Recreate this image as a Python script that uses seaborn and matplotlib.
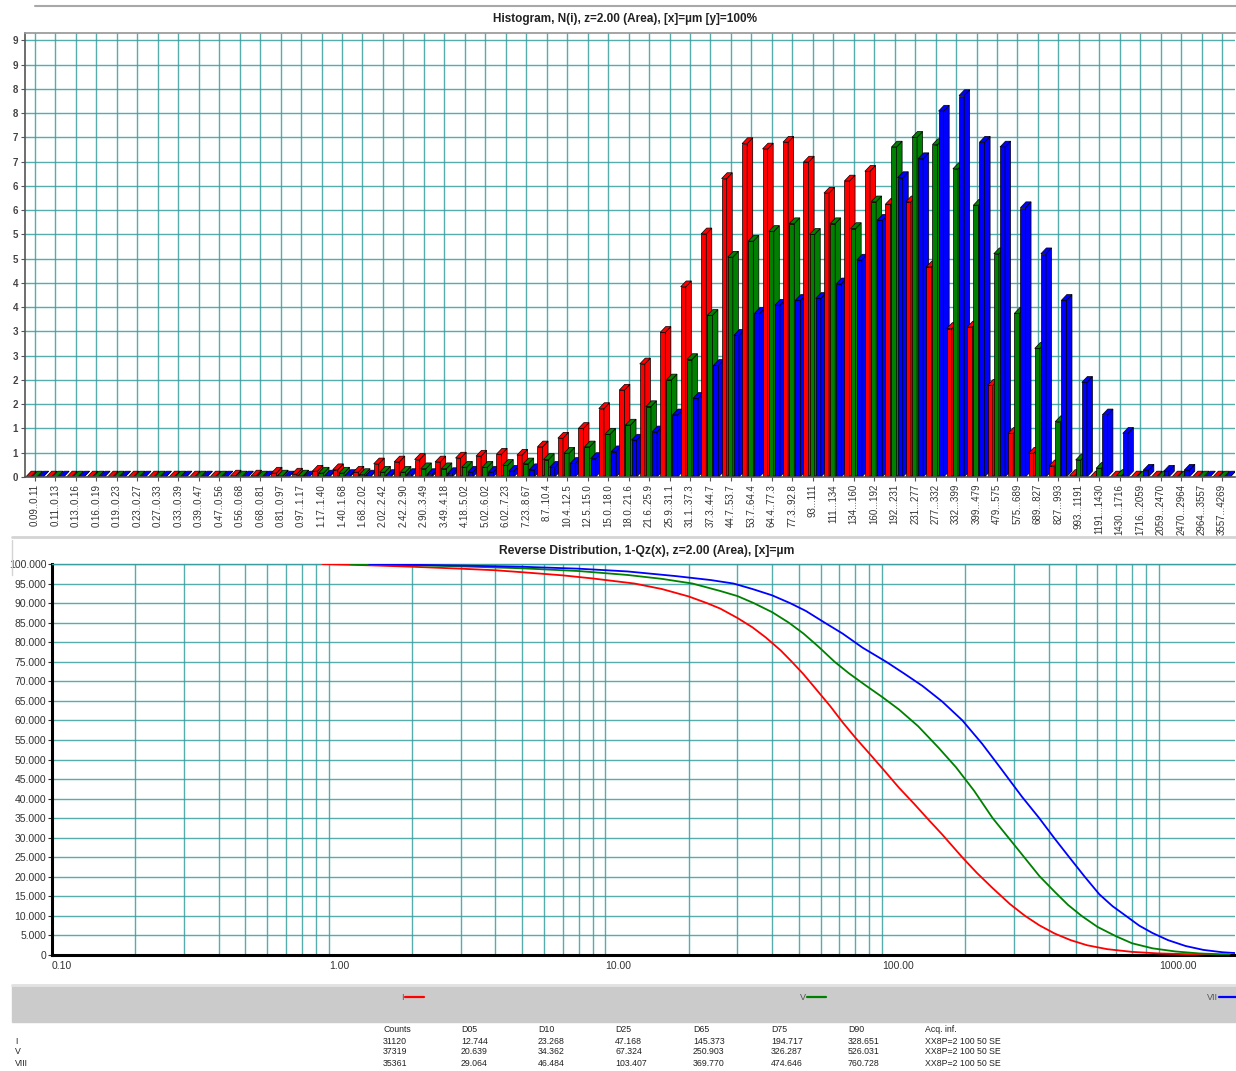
import numpy as np
import pandas as pd
import matplotlib
matplotlib.use("Agg")
import matplotlib.pyplot as plt
from matplotlib.lines import Line2D
from matplotlib.patches import Rectangle, Polygon
from matplotlib.ticker import LogLocator, NullFormatter
import seaborn as sns

# ---- histogram data (N(i), %) ----
bin_labels = ["0.09..0.11", "0.11..0.13", "0.13..0.16", "0.16..0.19", "0.19..0.23",
              "0.23..0.27", "0.27..0.33", "0.33..0.39", "0.39..0.47", "0.47..0.56",
              "0.56..0.68", "0.68..0.81", "0.81..0.97", "0.97..1.17", "1.17..1.40",
              "1.40..1.68", "1.68..2.02", "2.02..2.42", "2.42..2.90", "2.90..3.49",
              "3.49..4.18", "4.18..5.02", "5.02..6.02", "6.02..7.23", "7.23..8.67",
              "8.7..10.4", "10.4..12.5", "12.5..15.0", "15.0..18.0", "18.0..21.6",
              "21.6..25.9", "25.9..31.1", "31.1..37.3", "37.3..44.7", "44.7..53.7",
              "53.7..64.4", "64.4..77.3", "77.3..92.8", "93...111", "111...134",
              "134...160", "160...192", "192...231", "231...277", "277...332",
              "332...399", "399...479", "479...575", "575...689", "689...827",
              "827...993", "993...1191", "1191...1430", "1430...1716", "1716...2059",
              "2059...2470", "2470...2964", "2964...3557", "3557...4269"]

hist_i = [0, 0, 0, 0, 0, 0, 0, 0, 0, 0,
          0.02, 0.02, 0.08, 0.06, 0.12, 0.15, 0.10, 0.27, 0.31, 0.36,
          0.31, 0.39, 0.43, 0.47, 0.45, 0.62, 0.80, 1.00, 1.41, 1.79,
          2.33, 2.98, 3.92, 5.01, 6.15, 6.87, 6.76, 6.90, 6.49, 5.85,
          6.10, 6.30, 5.62, 5.67, 4.33, 3.06, 3.09, 1.89, 0.90, 0.49,
          0.23, 0.03, 0, 0, 0, 0, 0, 0, 0]
hist_v = [0, 0, 0, 0, 0, 0, 0, 0, 0, 0,
          0, 0, 0.02, 0.02, 0.08, 0.08, 0.05, 0.10, 0.10, 0.17,
          0.17, 0.20, 0.20, 0.24, 0.27, 0.36, 0.49, 0.62, 0.88, 1.07,
          1.45, 2.00, 2.42, 3.33, 4.53, 4.86, 5.06, 5.22, 5.00, 5.22,
          5.12, 5.67, 6.80, 7.00, 6.85, 6.35, 5.60, 4.60, 3.37, 2.65,
          1.14, 0.35, 0.18, 0.03, 0, 0, 0, 0, 0]
hist_viii = [0, 0, 0, 0, 0, 0, 0, 0, 0, 0,
             0, 0, 0, 0, 0.02, 0.03, 0.02, 0.03, 0.05, 0.05,
             0.07, 0.10, 0.10, 0.12, 0.15, 0.20, 0.28, 0.38, 0.52, 0.76,
             0.93, 1.28, 1.62, 2.30, 2.92, 3.37, 3.54, 3.64, 3.68, 3.98,
             4.47, 5.29, 6.17, 6.56, 7.54, 7.86, 6.90, 6.80, 5.55, 4.60,
             3.64, 1.95, 1.28, 0.90, 0.14, 0.12, 0.14, 0, 0]

# ---- reverse distribution 1-Qz(x), % ----
size_i = [0.95, 1.5, 2, 3, 4, 5, 7, 9, 12.744, 16, 20, 23.268, 26, 30, 34, 38, 43,
          47.168, 52, 58, 65, 72, 80, 90, 100, 115, 130, 145.373, 165, 194.717, 220,
          250, 290, 328.651, 370, 420, 480, 550, 650, 800, 1000, 1300, 1800]
q_i = [100, 99.6, 99.3, 98.8, 98.4, 97.9, 97.1, 96.3, 95, 93.6, 91.7, 90, 88.6, 86.2,
       83.8, 81.2, 77.9, 75, 71.8, 67.8, 63.6, 59.5, 55.6, 51.5, 47.8, 42.8, 38.8, 35,
       30.8, 25, 21, 17.2, 13, 10, 7.6, 5.5, 3.8, 2.5, 1.5, 0.8, 0.4, 0.2, 0.05]
size_v = [1.2, 2, 3, 5, 8, 12, 16, 20.639, 26, 30, 34.362, 40, 46, 52, 59, 67.324,
          76, 87, 100, 115, 135, 160, 185, 215, 250.903, 290, 326.287, 370, 420, 470,
          526.031, 600, 700, 800, 950, 1150, 1400, 1800]
q_v = [100, 99.7, 99.4, 98.9, 98.2, 97.2, 96.2, 95, 93.1, 91.8, 90, 87.7, 85, 82.2,
       78.8, 75, 72, 69, 66, 62.8, 58.5, 53, 48, 42, 35, 29.5, 25, 20.2, 16.2, 12.8,
       10, 7.2, 4.8, 3, 1.7, 0.9, 0.4, 0.1]
size_viii = [1.4, 2, 3, 5, 8, 12, 18, 24, 29.064, 34, 40, 46.484, 53, 62, 72, 85,
             103.407, 120, 140, 165, 195, 230, 270, 320, 369.77, 420, 474.646, 540,
             610, 680, 760.728, 850, 950, 1080, 1250, 1450, 1700, 1890]
q_viii = [100, 99.8, 99.6, 99.3, 98.8, 98.1, 96.9, 95.9, 95, 93.6, 92, 90, 88, 85,
          82.2, 78.6, 75, 72, 68.8, 64.8, 60, 54, 47.5, 40.5, 35, 29.8, 25, 20, 15.5,
          12.5, 10, 7.5, 5.6, 3.8, 2.3, 1.3, 0.7, 0.5]

# ---- statistics table ----
table_header = ["Counts", "D05", "D10", "D25", "D65", "D75", "D90", "Acq. inf."]
row_names = ["I", "V", "VIII"]
row_i = ["31120", "12.744", "23.268", "47.168", "145.373", "194.717", "328.651", "XX8P=2 100 50 SE"]
row_v = ["37319", "20.639", "34.362", "67.324", "250.903", "326.287", "526.031", "XX8P=2 100 50 SE"]
row_viii = ["35361", "29.064", "46.484", "103.407", "369.770", "474.646", "760.728", "XX8P=2 100 50 SE"]

legend_names = ["I", "V", "VII"]

sns.set_theme(style="white")
plt.rcParams['font.family'] = ['Liberation Sans', 'DejaVu Sans']

W, H = 1236, 1071
TEAL = "#3a9e9e"
RED, GREEN, BLUE = "#ff0000", "#008000", "#0000ff"


def box(l, t, r, b):
    return [l / W, 1 - b / H, (r - l) / W, (b - t) / H]


fig = plt.figure(figsize=(W / 100, H / 100), dpi=100)
fig.patch.set_facecolor("white")

# ================= Histogram (pseudo 3D bars) =================
ax1 = fig.add_axes(box(25, 33, 1235, 477))
pos = np.arange(len(bin_labels))
bar_w, dx, dy = 0.25, 0.27, 0.12

# series offsets inside a bin; bars further right are drawn on top
layers = [(hist_i, RED, -0.33, 0), (hist_v, GREEN, -0.03, 1), (hist_viii, BLUE, 0.27, 2)]
for vals, col, off, s in layers:
    vals = np.asarray(vals, dtype=float)
    n_before = len(ax1.patches)
    sns.barplot(x=pos + off, y=vals, native_scale=True, orient="x", width=bar_w,
                color=col, saturation=1, errorbar=None, edgecolor="black",
                linewidth=0.5, ax=ax1)
    for p in ax1.patches[n_before:]:
        i = int(round(p.get_x() + p.get_width() / 2 - off))
        p.set_zorder(2 + (3 * i + s) * 0.001)
    for i, h in enumerate(vals):
        a = i + off - bar_w / 2
        b = a + bar_w
        z = 2 + (3 * i + s) * 0.001 + 0.0005
        side = [(b, 0), (b + dx, dy), (b + dx, h + dy), (b, h)]
        top = [(a, h), (b, h), (b + dx, h + dy), (a + dx, h + dy)]
        for poly in (side, top):
            ax1.add_patch(Polygon(poly, closed=True, facecolor=col, edgecolor="black",
                                  linewidth=0.5, zorder=z))

ax1.set_xlim(-0.49, 58.63)
ax1.set_ylim(0, 9.15)
yt = np.arange(0, 9.01, 0.5)
ax1.set_yticks(yt)
ax1.set_yticklabels([str(int(np.floor(v + 0.5))) for v in yt], fontsize=7,
                    fontweight="bold", color="#444444")
ax1.set_xticks(pos)
ax1.set_xticklabels(bin_labels, rotation=90, fontsize=7, color="#333333")
ax1.set_xlabel("")
ax1.set_ylabel("")
ax1.grid(True, color=TEAL, linewidth=1, alpha=0.85)
ax1.set_axisbelow(True)
ax1.tick_params(axis="both", length=3, width=0.8, color="#555555", pad=2,
                bottom=True, left=True)
for s in ["left", "bottom"]:
    ax1.spines[s].set_color("#555555")
    ax1.spines[s].set_linewidth(1.2)
ax1.spines["top"].set_color("#999999")
ax1.spines["right"].set_visible(False)

fig.text(625 / W, 1 - 19 / H, "Histogram, N(i), z=2.00 (Area), [x]=µm [y]=100%",
         ha="center", va="center", fontsize=8.5, fontweight="bold", color="#222222")

# ================= Reverse distribution =================
ax2 = fig.add_axes(box(52, 564, 1235, 955))
curves = pd.concat([
    pd.DataFrame({"size": size_i, "q": q_i, "series": "I"}),
    pd.DataFrame({"size": size_v, "q": q_v, "series": "V"}),
    pd.DataFrame({"size": size_viii, "q": q_viii, "series": "VIII"}),
])
sns.lineplot(data=curves, x="size", y="q", hue="series",
             palette={"I": RED, "V": GREEN, "VIII": BLUE}, estimator=None,
             sort=False, linewidth=1.3, legend=False, zorder=3, ax=ax2)
ax2.set_xscale("log")
ax2.set_xlim(0.1, 1885)
ax2.set_ylim(0, 100)
xt = [0.1, 1, 10, 100, 1000]
ax2.set_xticks(xt)
ax2.set_xticklabels([f"{v:.2f}" for v in xt], fontsize=7.5, color="#333333")
for lab in ax2.get_xticklabels():
    lab.set_ha("left")
ax2.xaxis.set_minor_locator(LogLocator(base=10, subs=np.arange(2, 10)))
ax2.xaxis.set_minor_formatter(NullFormatter())
yt2 = np.arange(0, 100.1, 5)
ax2.set_yticks(yt2)
ax2.set_yticklabels(["0" if v == 0 else f"{v:.3f}" for v in yt2], fontsize=7.5,
                    color="#333333")
ax2.set_xlabel("")
ax2.set_ylabel("")
ax2.grid(True, which="both", axis="x", color=TEAL, linewidth=1, alpha=0.85)
ax2.grid(True, which="major", axis="y", color=TEAL, linewidth=1, alpha=0.85)
ax2.set_axisbelow(True)
ax2.tick_params(axis="y", length=3, width=0.8, color="#333333", pad=1, left=True)
ax2.tick_params(axis="x", which="both", length=0, pad=4)
for s in ["left", "bottom"]:
    ax2.spines[s].set_color("black")
    ax2.spines[s].set_linewidth(2.2)
ax2.spines["top"].set_color(TEAL)
ax2.spines["top"].set_linewidth(1)
ax2.spines["right"].set_visible(False)

fig.text(647 / W, 1 - 551 / H, "Reverse Distribution, 1-Qz(x), z=2.00 (Area), [x]=µm",
         ha="center", va="center", fontsize=8.7, fontweight="bold", color="#222222")

# ---- frame lines ----
fig.add_artist(Line2D([35 / W, 1], [1 - 6 / H, 1 - 6 / H], color="#a8a8a8", lw=1.5))
fig.add_artist(Line2D([12 / W, 1], [1 - 537 / H, 1 - 537 / H], color="#d4d4d4", lw=2))
fig.add_artist(Line2D([12 / W, 12 / W], [1 - 540 / H, 1 - 575 / H], color="#d4d4d4", lw=1))

# ---- legend band ----
fig.add_artist(Rectangle((12 / W, 1 - 1022 / H), (W - 12) / W, 37 / H,
                         transform=fig.transFigure, color="#cbcbcb", zorder=0))
fig.add_artist(Line2D([12 / W, 1], [1 - 985 / H, 1 - 985 / H], color="#e2e2e2", lw=2))
leg_x = [404, 806, 1218]
for name, col, lx in zip(legend_names, [RED, GREEN, BLUE], leg_x):
    fig.text(lx / W, 1 - 997 / H, name, ha="right", va="center", fontsize=6.5,
             color="#555555")
    fig.add_artist(Line2D([(lx + 1) / W, min(lx + 20, W) / W], [1 - 997 / H, 1 - 997 / H],
                          color=col, lw=1.6))

# ---- statistics table ----
col_x = [383, 461, 538, 615, 693, 771, 848, 925]
for cx, txt in zip(col_x, table_header):
    fig.text(cx / W, 1 - 1030 / H, txt, ha="left", va="center", fontsize=6.3,
             color="#222222")
for ry, name, row in zip([1041, 1052, 1063], row_names, [row_i, row_v, row_viii]):
    fig.text(15 / W, 1 - ry / H, name, ha="left", va="center", fontsize=6.3,
             color="#222222")
    for cx, txt in zip(col_x, row):
        fig.text(cx / W, 1 - ry / H, txt, ha="left", va="center", fontsize=6.3,
                 color="#222222")

fig.savefig("out.png", dpi=100, facecolor="white")
